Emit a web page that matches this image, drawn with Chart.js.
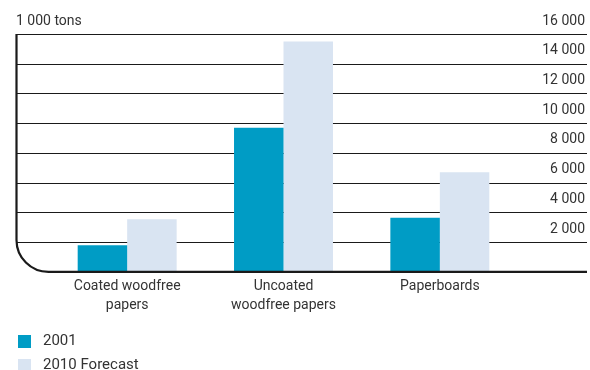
<!DOCTYPE html>
<html>
<head>
<meta charset="utf-8">
<script src="https://cdn.jsdelivr.net/npm/chart.js@4.4.1/dist/chart.umd.min.js"></script>
<style>
  html, body { margin: 0; padding: 0; background: #fff; }
  #wrap { width: 590px; height: 370px; }
</style>
</head>
<body>
<div id="wrap"><canvas id="paperChart" width="590" height="370"></canvas></div>
<script>
// Данні з графіка
const categories = [["Coated woodfree", "papers"], ["Uncoated", "woodfree papers"], ["Paperboards"]];
const series2001 = [1800, 9700, 3650];
const series2010 = [3550, 15500, 6700];
const seriesNames = ["2001", "2010 Forecast"];
const seriesColors = ["#009cc5", "#d9e4f2"];
const yTicks = [2000, 4000, 6000, 8000, 10000, 12000, 14000, 16000];
const unitLabel = "1 000 tons";

const FONT = "Roboto";
const LINE = "#1a1a1a";
const TEXT = "#333333";

function fmt(v) {
    return String(v).replace(/\B(?=(\d{3})+(?!\d))/g, " ");
}

// Сітка, осі та підписи
const framePlugin = {
    id: "frame",
    beforeDatasetsDraw(chart) {
        const ctx = chart.ctx;
        const y = chart.scales.y;
        const left = 16.5, right = 587;
        ctx.save();
        ctx.strokeStyle = LINE;
        ctx.lineWidth = 1.2;
        yTicks.forEach(t => {
            const py = Math.round(y.getPixelForValue(t)) + 0.5;
            ctx.beginPath();
            ctx.moveTo(left, py);
            ctx.lineTo(right, py);
            ctx.stroke();
        });
        ctx.restore();
    },
    afterDatasetsDraw(chart) {
        const ctx = chart.ctx;
        const y = chart.scales.y;
        const left = 16.5, right = 587;
        const top = y.getPixelForValue(16000);
        const base = y.getPixelForValue(0);
        ctx.save();
        ctx.strokeStyle = LINE;
        ctx.lineWidth = 2.2;
        ctx.beginPath();
        ctx.moveTo(left, top);
        ctx.arcTo(left, base, left + 34, base, 32);
        ctx.lineTo(right, base);
        ctx.stroke();

        // підписи шкали
        ctx.fillStyle = TEXT;
        ctx.font = "14px " + FONT;
        ctx.textAlign = "right";
        ctx.textBaseline = "middle";
        yTicks.forEach(t => {
            ctx.fillText(fmt(t), 585, y.getPixelForValue(t) - 13);
        });
        ctx.textAlign = "left";
        ctx.fillText(unitLabel, 16, top - 13);

        // легенда
        chart.data.datasets.forEach((ds, i) => {
            const ly = 341 + i * 24;
            ctx.fillStyle = ds.backgroundColor;
            ctx.fillRect(18, ly - 6, 13, 13);
            ctx.fillStyle = TEXT;
            ctx.font = "15px " + FONT;
            ctx.fillText(ds.label, 43, ly);
        });
        ctx.restore();
    }
};

new Chart(document.getElementById("paperChart").getContext("2d"), {
    type: "bar",
    data: {
        labels: categories,
        datasets: [
            { label: seriesNames[0], data: series2001, backgroundColor: seriesColors[0] },
            { label: seriesNames[1], data: series2010, backgroundColor: seriesColors[1] }
        ]
    },
    options: {
        responsive: false,
        animation: false,
        devicePixelRatio: 1,
        layout: { padding: { left: 49, right: 72, top: 34, bottom: 50 } },
        datasets: { bar: { categoryPercentage: 0.633, barPercentage: 1 } },
        plugins: { legend: { display: false }, tooltip: { enabled: false } },
        scales: {
            x: {
                grid: { display: false, drawTicks: false },
                border: { display: false },
                ticks: {
                    color: TEXT,
                    padding: 5,
                    maxRotation: 0,
                    autoSkip: false,
                    font: { family: FONT, size: 14, lineHeight: 1.36 }
                }
            },
            y: {
                display: false,
                min: 0,
                max: 16000
            }
        }
    },
    plugins: [framePlugin]
});
</script>
</body>
</html>
